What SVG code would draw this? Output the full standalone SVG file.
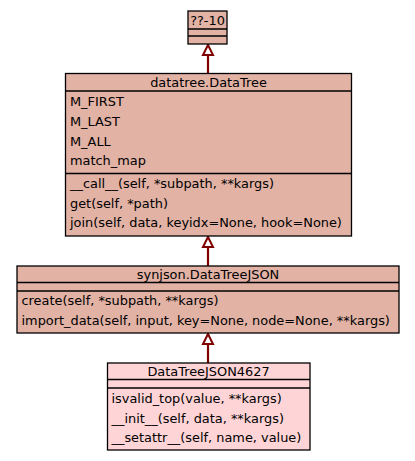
<svg xmlns="http://www.w3.org/2000/svg" width="415" height="461" viewBox="0 0 415 461">
<defs>
<style>
.box{stroke:#000;stroke-width:1.3}
.a{fill:#e2b2a5}
.b{fill:#ffd4d6}
.sep{stroke:#000;stroke-width:1.3}
text{font-family:"DejaVu Sans",sans-serif;font-size:12.9px;fill:#000}
.t{text-anchor:middle}
.edge{stroke:#800000;stroke-width:2.2;fill:none}
</style>
<marker id="inh" viewBox="0 0 12 16" refX="11" refY="8" markerWidth="12" markerHeight="16" markerUnits="userSpaceOnUse" orient="auto">
<path d="M1,3 L11,8 L1,13 Z" fill="#fff" stroke="#800000" stroke-width="2"/>
</marker>
</defs>
<rect width="415" height="461" fill="#fff"/>
<g id="connectors">
<line class="edge" x1="208" y1="73" x2="208" y2="45" marker-end="url(#inh)"/>
<line class="edge" x1="208" y1="266" x2="208" y2="237" marker-end="url(#inh)"/>
<line class="edge" x1="208" y1="363" x2="208" y2="334" marker-end="url(#inh)"/>
</g>
<g id="n1">
<rect class="box a" x="188" y="11" width="39" height="33"/>
<line class="sep" x1="188" y1="29" x2="227" y2="29"/>
<line class="sep" x1="188" y1="36" x2="227" y2="36"/>
<text class="t" x="207.5" y="25">??-10</text>
</g>
<g id="n2">
<rect class="box a" x="65.5" y="73.5" width="286" height="162.5"/>
<line class="sep" x1="65.5" y1="91" x2="351.5" y2="91"/>
<line class="sep" x1="65.5" y1="173.5" x2="351.5" y2="173.5"/>
<text class="t" x="208.5" y="86.5">datatree.DataTree</text>
<text x="70" y="105.5">M_FIRST</text>
<text x="70" y="125.5">M_LAST</text>
<text x="70" y="145.5">M_ALL</text>
<text x="70" y="165">match_map</text>
<text x="70" y="188">__call__(self, *subpath, **kargs)</text>
<text x="70" y="207.5">get(self, *path)</text>
<text x="70" y="227">join(self, data, keyidx=None, hook=None)</text>
</g>
<g id="n3">
<rect class="box a" x="17" y="266" width="382" height="67"/>
<line class="sep" x1="17" y1="282.5" x2="399" y2="282.5"/>
<line class="sep" x1="17" y1="291" x2="399" y2="291"/>
<text class="t" x="208" y="278.5">synjson.DataTreeJSON</text>
<text x="21.5" y="305">create(self, *subpath, **kargs)</text>
<text x="21.5" y="325">import_data(self, input, key=None, node=None, **kargs)</text>
</g>
<g id="n4">
<rect class="box b" x="107.5" y="363" width="202.5" height="87"/>
<line class="sep" x1="107.5" y1="379.5" x2="310" y2="379.5"/>
<line class="sep" x1="107.5" y1="388" x2="310" y2="388"/>
<text class="t" x="208.5" y="375.5">DataTreeJSON4627</text>
<text x="111.5" y="403">isvalid_top(value, **kargs)</text>
<text x="111.5" y="423">__init__(self, data, **kargs)</text>
<text x="111.5" y="442">__setattr__(self, name, value)</text>
</g>
</svg>
